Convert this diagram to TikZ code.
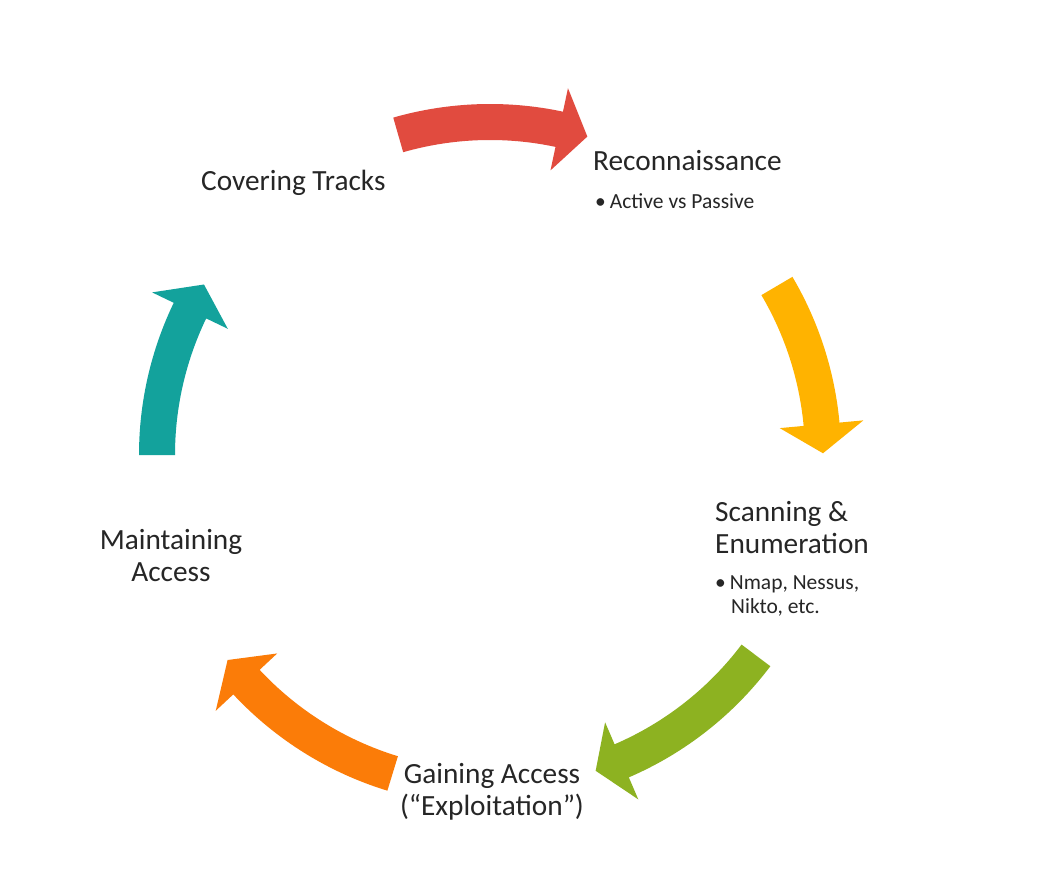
\documentclass[tikz,border=0pt]{standalone}
\usepackage{fontspec}
\setmainfont{Carlito}
\definecolor{cred}{HTML}{E14B3F}
\definecolor{cyellow}{HTML}{FFB300}
\definecolor{cgreen}{HTML}{8DB221}
\definecolor{corange}{HTML}{FB7C08}
\definecolor{cteal}{HTML}{13A29C}
\definecolor{ctext}{HTML}{262626}
\newcommand{\cycarrow}[4]{%
  \fill[#1] (#2:351pt) arc[start angle=#2, end angle=#3, radius=351pt]
    -- (#3:375pt) -- (#4:333pt) -- (#3:291pt) -- (#3:315pt)
    arc[start angle=#3, end angle=#2, radius=315pt] -- cycle;}
\begin{document}
\begin{tikzpicture}[x=1pt,y=1pt,
  big/.style={font=\fontsize{29.3}{34}\selectfont, text=ctext, inner sep=0pt},
  small/.style={font=\fontsize{21.5}{26}\selectfont, text=ctext, inner sep=0pt}]
\useasboundingbox[fill=white] (0,0) rectangle (1039,-896);
\begin{scope}[shift={(490,-455)}]
  \cycarrow{cred}{106}{78}{73}
  \cycarrow{cyellow}{30.5}{5.3}{0.3}
  \cycarrow{cgreen}{-37}{-66.7}{-71.5}
  \cycarrow{corange}{-107}{-137}{-142}
  \cycarrow{cteal}{180}{154.3}{149.2}
\end{scope}
% texts
\node[big, anchor=base west] (cov) at (201,-191) {Covering Tracks};
\node[big, anchor=base west] (rec) at (593,-171) {Reconnaissance};
\node[small, anchor=base west] (recb) at (595,-209) {\textbullet\hspace{4pt}Active vs Passive};
\node[big, anchor=base west] (scan1) at (715,-521) {Scanning \&};
\node[big, anchor=base west] (scan2) at (715,-553) {Enumeration};
\node[small, anchor=base west] (scanb1) at (715,-589) {\textbullet\hspace{4pt}Nmap, Nessus,};
\node[small, anchor=base west] (scanb2) at (731,-613) {Nikto, etc.};
\node[big, anchor=base] (main1) at (171,-549) {Maintaining};
\node[big, anchor=base] (main2) at (171,-581) {Access};
\node[big, anchor=base] (gain1) at (492,-783) {Gaining Access};
\node[big, anchor=base] (gain2) at (492,-815) {(“Exploitation”)};
\end{tikzpicture}
\end{document}
